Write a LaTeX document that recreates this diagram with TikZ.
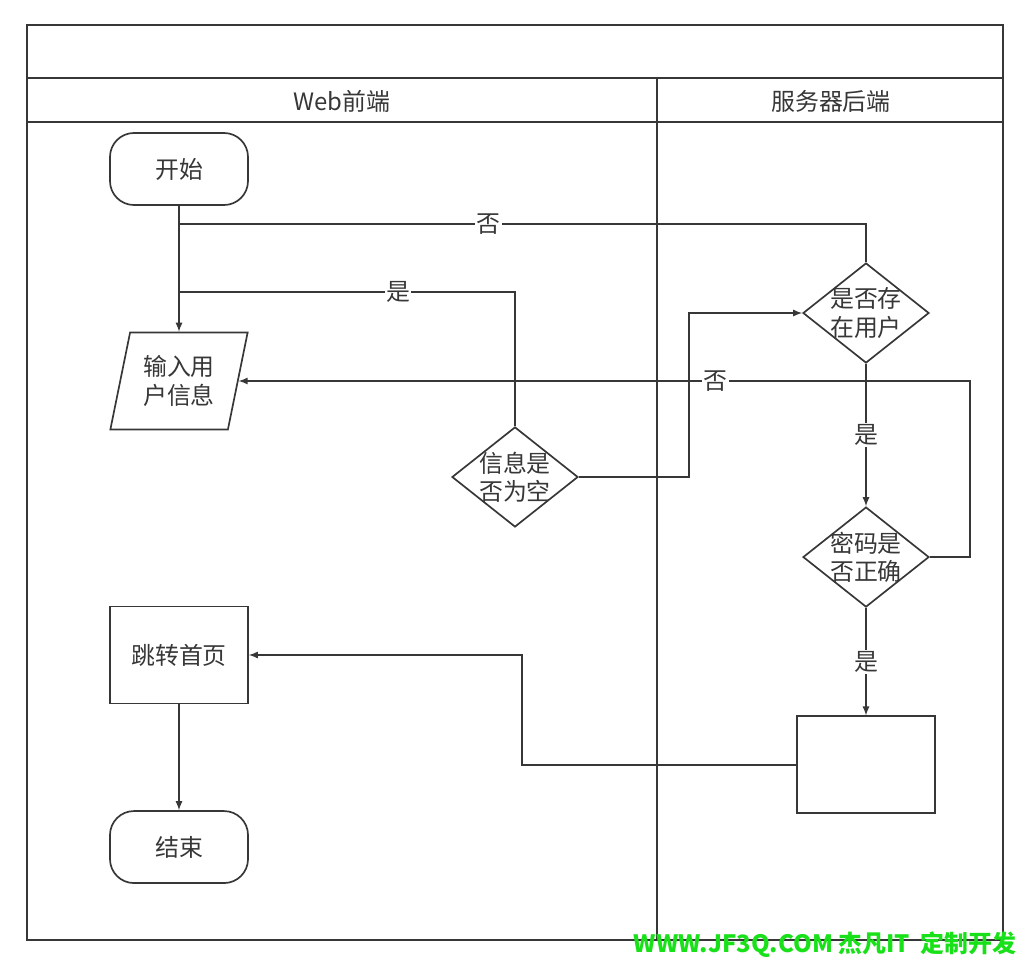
\documentclass[tikz,border=0pt]{standalone}
\usepackage{fontspec}
\newfontfamily\cjk{Noto Sans CJK SC}
\usetikzlibrary{shapes.geometric, positioning}
\definecolor{linegray}{RGB}{55,55,55}
\definecolor{markgreen}{RGB}{25,225,25}

\begin{document}
\begin{tikzpicture}[x=0.025cm, y=-0.025cm, on grid, >=latex, line width=1.2pt, color=linegray,
    every node/.style={font=\cjk\fontsize{17}{20}\selectfont, align=center},
    term/.style={draw, rectangle, rounded corners=0.6cm, minimum width=3.45cm, minimum height=1.8cm},
    io/.style={draw, trapezium, trapezium left angle=74, trapezium right angle=106, trapezium stretches=true,
      minimum width=3.45cm, minimum height=2.42cm, inner sep=0pt},
    decision/.style={draw, diamond, aspect=1.25, inner sep=-6pt, minimum width=3.15cm, minimum height=2.5cm},
    process/.style={draw, rectangle, minimum width=3.45cm, minimum height=2.42cm},
    lbl/.style={fill=white, inner sep=1pt}]

  \useasboundingbox (0,0) rectangle (1024,965);

  % lanes
  \draw (27,25) rectangle (1003,940);
  \draw (27,78) -- (1003,78);
  \draw (27,122) -- (1003,122);
  \draw (657,78) -- (657,940);
  \node (web) at (342,101) {Web前端};
  \node (server) at (831,101) {服务器后端};

  \node[term]     (start)  at (179,169) {开始};
  \node[io]       (input)  at (179,381) {输入用\\户信息};
  \node[decision] (empty)  at (515,477) {信息是\\否为空};
  \node[decision] (exist)  at (866,313) {是否存\\在用户};
  \node[decision] (pwd)    [below=6.1cm of exist] {密码是\\否正确};
  \node[process]  (check)  [below=5.19cm of pwd] {};
  \node[process]  (home)   at (179,655) {跳转首页};
  \node[term]     (finish) [below=4.8cm of home] {结束};

  \coordinate (no1) at (179,224);
  \coordinate (yes1) at (179,292);

  \path[->] (start) edge (input)
            (exist) edge node[lbl] {是} (pwd)
            (pwd) edge node[lbl] {是} (check)
            (home) edge (finish);

  \draw (exist.north) |- node[lbl, pos=0.775] {否} (no1);
  \draw (empty.north) |- node[lbl, pos=0.674] {是} (yes1);
  \draw[->] (empty.east) -- ++(110,0) |- (exist.west);
  \draw[->] (pwd.east) -- ++(40,0) |- node[lbl, pos=0.674] {否} (input.east);
  \draw[->] (check.west) -- ++(-274,0) |- (home.east);

  \node[anchor=east, text=markgreen, font=\cjk\bfseries\fontsize{17}{20}\selectfont] (mark) at (1022,945) {WWW.JF3Q.COM 杰凡IT\ \ 定制开发};
\end{tikzpicture}
\end{document}
